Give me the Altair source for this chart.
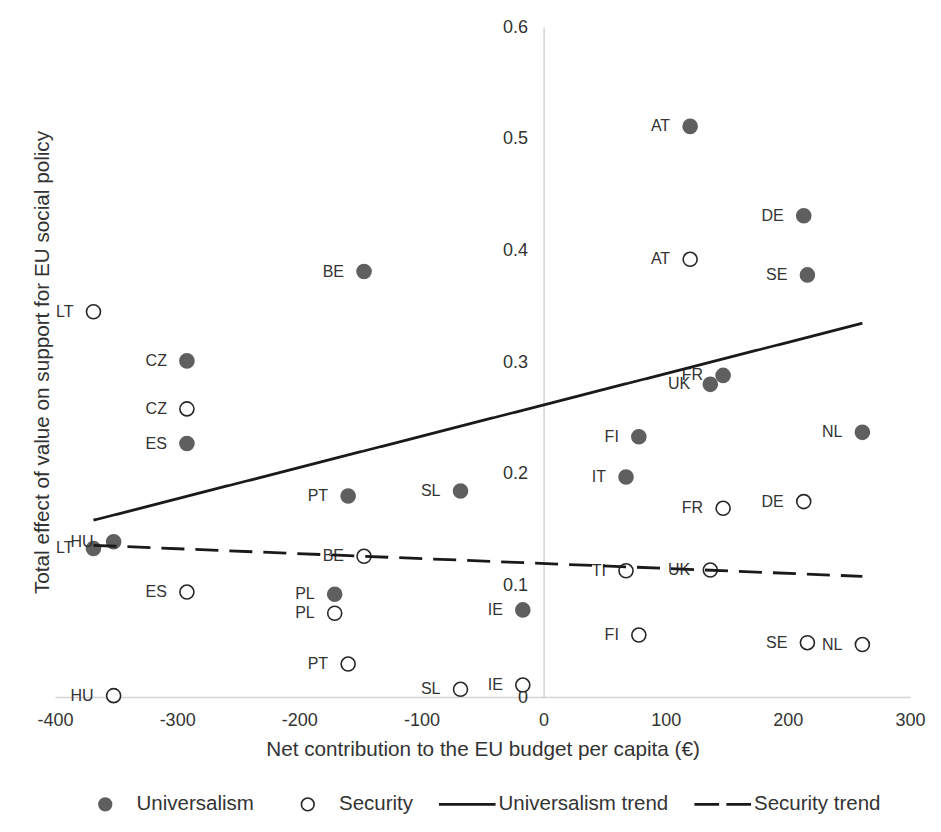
import altair as alt
import pandas as pd

countries = ["AT", "BE", "CZ", "DE", "ES", "FI", "FR", "HU", "IE", "IT",
             "LT", "NL", "PL", "PT", "SE", "SL", "UK"]
net_contribution = [120, -147, -292, 213, -292, 78, 147, -352, -17, 67.5,
                    -368.5, 261, -171, -160, 216, -68, 136.5]
universalism = [0.511, 0.381, 0.301, 0.431, 0.227, 0.233, 0.288, 0.139, 0.078, 0.197,
                0.133, 0.237, 0.092, 0.180, 0.378, 0.1845, 0.280]
security = [0.392, 0.126, 0.258, 0.175, 0.094, 0.0555, 0.169, 0.0012, 0.0107, 0.113,
            0.345, 0.047, 0.075, 0.0295, 0.0486, 0.0069, 0.1137]
universalism_labels = ["AT", "BE", "CZ", "DE", "ES", "FI", "FR", "HU", "IE", "IT",
                       "LT", "NL", "PL", "PT", "SE", "SL", "UK"]
security_labels = ["AT", "BE", "CZ", "DE", "ES", "FI", "FR", "HU", "IE", "TI",
                   "LT", "NL", "PL", "PT", "SE", "SL", "UK"]
series_names = ["Universalism", "Security", "Universalism trend", "Security trend"]
x_ticks = [-400, -300, -200, -100, 0, 100, 200, 300]
y_ticks = [0, 0.1, 0.2, 0.3, 0.4, 0.5, 0.6]

rows = []
for c, x, u, s, lu, ls in zip(countries, net_contribution, universalism, security,
                              universalism_labels, security_labels):
    rows.append({"country": c, "x": x, "y": u, "series": "Universalism", "label": lu})
    rows.append({"country": c, "x": x, "y": s, "series": "Security", "label": ls})
df = pd.DataFrame(rows)

FONT = "Liberation Sans"
TXT = "#333333"
W, H = 855, 670
x0_px = 400 / 700 * W

base = alt.Chart(df)

x_enc = alt.X("x:Q", scale=alt.Scale(domain=[-400, 300], nice=False, zero=False),
              axis=alt.Axis(values=x_ticks, grid=False, ticks=False, tickSize=0,
                            labelExpr="datum.value + ''",
                            domainColor="#d4d4d4", domainWidth=1.5,
                            labelFontSize=18, labelColor=TXT, labelFont=FONT,
                            labelPadding=14, labelFlush=False,
                            title="Net contribution to the EU budget per capita (€)",
                            titleFontSize=20.7, titleFontWeight="normal", titleColor=TXT,
                            titleFont=FONT, titleY=42))
y_enc = alt.Y("y:Q", scale=alt.Scale(domain=[0, 0.6], nice=False),
              axis=alt.Axis(values=y_ticks, format="~g", grid=False, ticks=False, tickSize=0,
                            domainColor="#d4d4d4", domainWidth=1.5, offset=-x0_px,
                            labelFontSize=18, labelColor=TXT, labelFont=FONT,
                            labelPadding=16, labelFlush=False,
                            title="Total effect of value on support for EU social policy",
                            titleFontSize=20.7, titleFontWeight="normal", titleColor=TXT,
                            titleFont=FONT, titleX=-12 - x0_px, titleY=H / 2,
                            titleAngle=270, titleAlign="center", titleBaseline="middle"))

legend = alt.Legend(
    title=None, orient="none", legendX=40, legendY=767, direction="horizontal",
    columnPadding=22.5, labelOffset=21, labelFontSize=20.5, labelFont=FONT,
    labelColor=TXT, labelLimit=400, padding=0, symbolSize=160, symbolStrokeWidth=1.6,
)

circle_sym = "M-4.35,0M1,0A1,1,0,1,1,-1,0A1,1,0,1,1,1,0Z"
line_sym = "M-4.35,-0.11H4.35V0.11H-4.35Z"
dash_sym = "M-4.35,-0.11H-0.7V0.11H-4.35ZM0.7,-0.11H4.35V0.11H0.7Z"

points = base.mark_point(filled=True, size=196, strokeWidth=1.6, opacity=1).encode(
    x=x_enc, y=y_enc,
    fill=alt.Fill("series:N", scale=alt.Scale(domain=series_names,
                  range=["#5f5f5f", "#ffffff", "#1a1a1a", "#1a1a1a"]), legend=legend),
    stroke=alt.Stroke("series:N", scale=alt.Scale(domain=series_names,
                      range=["#5f5f5f", "#262626", "#1a1a1a", "#1a1a1a"]), legend=legend),
    shape=alt.Shape("series:N", scale=alt.Scale(domain=series_names,
                    range=[circle_sym, circle_sym, line_sym, dash_sym]), legend=legend),
)

labels = base.mark_text(align="right", baseline="middle", dx=-20, fontSize=16,
                        font=FONT, color=TXT).encode(x="x:Q", y="y:Q", text="label:N")

trends = base.transform_regression("x", "y", groupby=["series"]).mark_line(
    color="#1a1a1a", strokeWidth=2.8).encode(
    x="x:Q", y="y:Q",
    strokeDash=alt.StrokeDash("series:N", scale=alt.Scale(domain=["Universalism", "Security"],
                              range=[[1, 0], [23, 11]]), legend=None),
)

chart = alt.layer(points, labels, trends).properties(
    width=W, height=H, background="white",
    autosize=alt.AutoSizeParams(type="none"),
    padding={"left": 47, "top": 19, "right": 20, "bottom": 120},
).configure_view(strokeWidth=0)

chart.save("out.html", embed_options={"renderer": "svg", "actions": False})
